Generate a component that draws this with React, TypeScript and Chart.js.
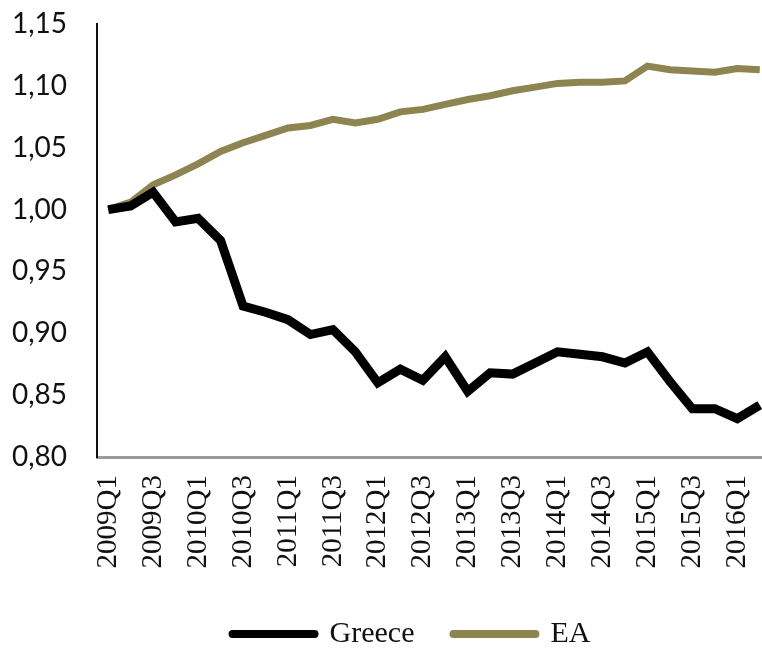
import React, { useEffect, useRef } from "react";
import { Chart, registerables } from "chart.js";

Chart.register(...registerables);

const quarters: string[] = [
  "2009Q1", "2009Q2", "2009Q3", "2009Q4",
  "2010Q1", "2010Q2", "2010Q3", "2010Q4",
  "2011Q1", "2011Q2", "2011Q3", "2011Q4",
  "2012Q1", "2012Q2", "2012Q3", "2012Q4",
  "2013Q1", "2013Q2", "2013Q3", "2013Q4",
  "2014Q1", "2014Q2", "2014Q3", "2014Q4",
  "2015Q1", "2015Q2", "2015Q3", "2015Q4",
  "2016Q1", "2016Q2",
];

const greece: number[] = [
  1.000, 1.003, 1.014, 0.990, 0.993, 0.975, 0.922, 0.917, 0.911, 0.899,
  0.903, 0.885, 0.860, 0.871, 0.862, 0.881, 0.853, 0.868, 0.867, 0.876,
  0.885, 0.883, 0.881, 0.876, 0.885, 0.861, 0.839, 0.839, 0.831, 0.842,
];

const ea: number[] = [
  1.000, 1.006, 1.020, 1.028, 1.037, 1.047, 1.054, 1.060, 1.066, 1.068,
  1.073, 1.070, 1.073, 1.079, 1.081, 1.085, 1.089, 1.092, 1.096, 1.099,
  1.102, 1.103, 1.103, 1.104, 1.116, 1.113, 1.112, 1.111, 1.114, 1.113,
];

const seriesNames: string[] = ["Greece", "EA"];
const seriesColors: string[] = ["#000000", "#8E8451"];

const yMin = 0.8;
const yMax = 1.15;
const yStep = 0.05;

const legendShift = {
  id: "legendShift",
  afterLayout(chart: any) {
    const lg = chart.legend;
    if (lg) {
      lg.left += 22;
      lg.right += 22;
    }
  },
};

export default function App() {
  const ref = useRef<HTMLCanvasElement | null>(null);

  useEffect(() => {
    if (!ref.current) return;
    const chart = new Chart(ref.current, {
      type: "line",
      plugins: [legendShift],
      data: {
        labels: quarters,
        datasets: [
          {
            label: seriesNames[0],
            data: greece,
            borderColor: seriesColors[0],
            backgroundColor: seriesColors[0],
            borderWidth: 9,
            pointRadius: 0,
            tension: 0,
            fill: false,
          },
          {
            label: seriesNames[1],
            data: ea,
            borderColor: seriesColors[1],
            backgroundColor: seriesColors[1],
            borderWidth: 7,
            pointRadius: 0,
            tension: 0,
            fill: false,
          },
        ],
      },
      options: {
        responsive: false,
        animation: false,
        devicePixelRatio: 1,
        layout: { padding: { left: 8, right: 4, top: 24, bottom: 0 } },
        plugins: {
          tooltip: { enabled: false },
          legend: {
            position: "bottom",
            align: "center",
            labels: {
              usePointStyle: true,
              pointStyle: "line",
              pointStyleWidth: 82,
              padding: 39,
              color: "#111111",
              font: { family: "'Liberation Serif', serif", size: 30 },
              generateLabels: (c: any) =>
                c.data.datasets.map((ds: any, i: number) => ({
                  text: ds.label,
                  fillStyle: ds.borderColor,
                  strokeStyle: ds.borderColor,
                  lineWidth: 8,
                  lineCap: "round",
                  pointStyle: "line",
                  hidden: false,
                  datasetIndex: i,
                  fontColor: "#111111",
                })),
            },
          },
        },
        scales: {
          x: {
            type: "category",
            offset: true,
            grid: { display: false, drawTicks: false, tickLength: 0 },
            border: { display: true, color: "#9a9a9a", width: 3 },
            ticks: {
              autoSkip: false,
              maxRotation: 90,
              minRotation: 90,
              padding: 18,
              color: "#111111",
              font: { family: "'Liberation Serif', serif", size: 29 },
              callback: (_v: any, i: number) => (i % 2 === 0 ? quarters[i] : null),
            },
            afterFit: (s: any) => {
              s.height = 123;
              s.paddingLeft = 0;
              s.paddingRight = 0;
            },
          },
          y: {
            min: yMin,
            max: yMax,
            grid: { display: false, drawTicks: false, tickLength: 0 },
            border: { display: true, color: "#111111", width: 2 },
            ticks: {
              stepSize: yStep,
              padding: 30,
              color: "#111111",
              font: { family: "Lato, sans-serif", size: 28 },
              callback: (v: any) => Number(v).toFixed(2).replace(".", ","),
            },
            afterFit: (s: any) => {
              s.width = 89;
              s.paddingTop = 0;
              s.paddingBottom = 0;
            },
          },
        },
      },
    });
    return () => chart.destroy();
  }, []);

  return (
    <div
      style={{
        position: "fixed",
        left: 0,
        top: 0,
        width: 762,
        height: 649,
        overflow: "hidden",
        background: "#ffffff",
      }}
    >
      <canvas ref={ref} width={775} height={659} style={{ display: "block" }} />
    </div>
  );
}
